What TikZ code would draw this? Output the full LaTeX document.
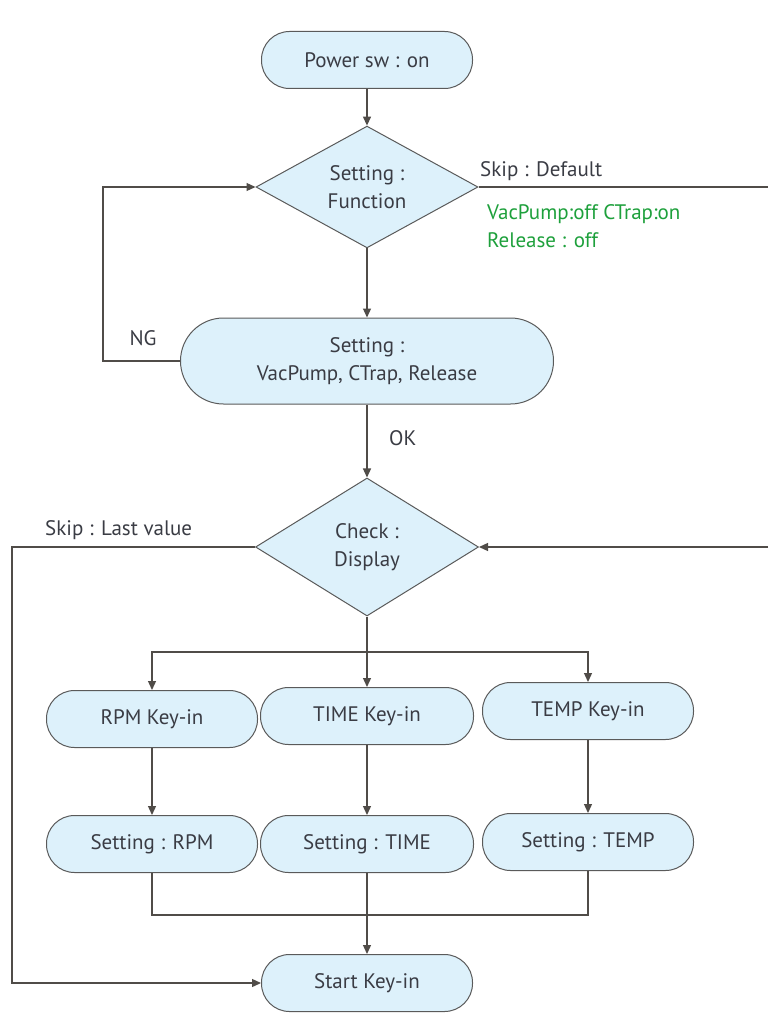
\documentclass[tikz,border=0pt]{standalone}
\usepackage{fontspec}
\setmainfont{PT Sans}
\usetikzlibrary{arrows.meta,
	shapes}

\definecolor{boxfill}{RGB}{221,241,251}
\definecolor{boxline}{RGB}{90,90,90}
\definecolor{txtgray}{RGB}{58,60,68}
\definecolor{flowgray}{RGB}{80,76,72}
\definecolor{notegreen}{RGB}{30,160,60}

\begin{document}
\begin{tikzpicture}[x=1pt,y=-1pt,>={Triangle[length=9pt,width=8pt]}]
    \tikzstyle{term}=[rectangle,rounded corners=28pt,draw=boxline,fill=boxfill,line width=1pt,minimum width=211pt,minimum height=57pt,inner sep=0pt,text=txtgray,font=\fontsize{21}{28}\selectfont,align=center]
    \tikzstyle{decision}=[diamond,draw=boxline,fill=boxfill,line width=1pt,inner sep=0pt,text=txtgray,font=\fontsize{21}{28}\selectfont,align=center]
    \tikzstyle{flow}=[draw=flowgray,line width=1.3pt]
    \tikzstyle{lbl}=[text=txtgray,font=\fontsize{21}{28}\selectfont,inner sep=0pt]
    \useasboundingbox (0,0) rectangle (768,1030);
    \node[term] (power) at (367,60) {Power sw : on};
    \node[decision,minimum width=222pt,minimum height=102pt] (func) at (367,187) {Setting :\\Function};
    \node[term,minimum width=373pt,minimum height=86pt,rounded corners=43pt] (vac) at (367,361) {Setting :\\VacPump, CTrap, Release};
    \node[decision,minimum width=223pt,minimum height=138pt] (disp) at (367,547) {Check :\\Display};
    \node[term] (rpmkey) at (152,719) {RPM Key-in};
    \node[term,minimum width=213pt] (timekey) at (367,716) {TIME Key-in};
    \node[term] (tempkey) at (588,711) {TEMP Key-in};
    \node[term] (rpmset) at (152,844) {Setting : RPM};
    \node[term,minimum width=213pt] (timeset) at (367,844) {Setting : TIME};
    \node[term] (tempset) at (588,842) {Setting : TEMP};
    \node[term] (start) at (367,983) {Start Key-in};
    % labels
    \node[lbl,anchor=south west] (skipdef) at (480,181) {Skip : Default};
    \node[lbl,anchor=north west,text=notegreen,align=left] (defval) at (487,204) {VacPump:off CTrap:on\\Release : off};
    \node[lbl] (ng) at (143,338) {NG};
    \node[lbl,anchor=west] (ok) at (389,438) {OK};
    \node[lbl,anchor=south west] (skiplast) at (45,540) {Skip : Last value};
    % turning points
    \coordinate (ngturn) at (103,361);
    \coordinate (rtop) at (768,187);
    \coordinate (rbot) at (768,547);
    \coordinate (lturn) at (12,547);
    \coordinate (split) at (367,652);
    \coordinate (merge) at (367,915);
    \draw[flow,->] (power) -- (func);
    \draw[flow,->] (func) -- (vac);
    \draw[flow,->] (vac) -- (disp);
    \draw[flow,->] (vac.west) -- (ngturn) |- (func.west);
    \draw[flow] (func.east) -- (rtop);
    \draw[flow,->] (rbot) -- (disp.east);
    \draw[flow,->] (disp.west) -- (lturn) |- (start.west);
    \draw[flow] (disp.south) -- (split);
    \draw[flow,->] (split) -| (rpmkey.north);
    \draw[flow,->] (split) -- (timekey.north);
    \draw[flow,->] (split) -| (tempkey.north);
    \draw[flow,->] (rpmkey) -- (rpmset);
    \draw[flow,->] (timekey) -- (timeset);
    \draw[flow,->] (tempkey) -- (tempset);
    \draw[flow] (rpmset.south) |- (merge) -| (tempset.south);
    \draw[flow,->] (timeset) -- (start);
\end{tikzpicture}
\end{document}
